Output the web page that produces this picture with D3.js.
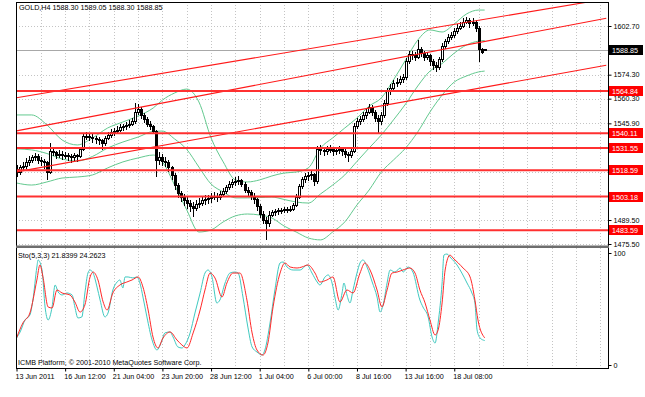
<!DOCTYPE html>
<html>
<head>
<meta charset="utf-8">
<script src="https://cdn.jsdelivr.net/npm/d3@7"></script>
<style>
  body { margin: 0; background: #fff; }
  svg text { font-family: "Liberation Sans", Arial, sans-serif; font-size: 7.2px; fill: #000; }
</style>
</head>
<body>
<div id="chart"></div>
<script>
// GOLD H4 bars, [open, high, low, close]
const candles = [
  [1519.0,1521.5,1514.5,1517.5],[1517.5,1521.8,1516.0,1519.9],[1519.9,1523.5,1518.2,1521.0],[1521.0,1525.6,1519.4,1522.8],
  [1522.8,1527.0,1521.0,1524.5],[1524.5,1527.5,1522.6,1525.7],[1525.7,1528.4,1523.9,1526.3],[1526.3,1527.8,1522.1,1524.5],
  [1524.5,1526.0,1520.8,1523.4],[1523.4,1525.2,1519.5,1522.8],[1522.8,1523.9,1512.9,1517.5],[1517.5,1534.4,1516.3,1529.2],
  [1529.2,1531.4,1526.8,1528.6],[1528.6,1530.0,1525.1,1527.4],[1527.4,1530.2,1525.8,1528.0],[1528.0,1529.6,1524.6,1526.9],
  [1526.9,1529.3,1525.0,1527.4],[1527.4,1528.7,1523.8,1526.3],[1526.3,1527.9,1522.8,1525.7],[1525.7,1528.6,1524.1,1526.9],
  [1526.9,1528.1,1523.6,1526.3],[1526.3,1532.1,1525.4,1530.4],[1530.4,1540.3,1529.5,1538.0],[1538.0,1540.9,1536.1,1538.5],
  [1538.5,1540.2,1535.5,1537.4],[1537.4,1539.6,1534.7,1536.8],[1536.8,1538.8,1534.0,1536.2],[1536.2,1538.1,1533.4,1535.6],
  [1535.6,1536.9,1530.6,1533.9],[1533.9,1538.6,1532.8,1536.8],[1536.8,1541.0,1535.9,1539.1],[1539.1,1542.4,1537.6,1540.3],
  [1540.3,1543.2,1538.8,1541.4],[1541.4,1544.1,1539.7,1542.0],[1542.0,1545.3,1540.6,1543.2],[1543.2,1545.7,1541.3,1543.8],
  [1543.8,1546.5,1542.0,1544.4],[1544.4,1547.6,1543.0,1545.5],[1545.5,1548.9,1544.1,1546.7],[1546.7,1557.8,1545.8,1552.5],
  [1552.5,1557.2,1550.6,1553.7],[1553.7,1555.3,1548.4,1550.2],[1550.2,1552.0,1545.9,1547.9],[1547.9,1549.6,1543.7,1545.5],
  [1545.5,1547.4,1541.9,1543.8],[1543.8,1545.2,1539.6,1541.4],[1541.4,1542.3,1514.6,1524.5],[1524.5,1529.1,1521.8,1525.7],
  [1525.7,1527.9,1521.2,1523.9],[1523.9,1526.2,1520.5,1522.8],[1522.8,1524.4,1517.6,1519.9],[1519.9,1521.3,1512.8,1515.2],
  [1515.2,1516.7,1506.9,1509.4],[1509.4,1511.2,1502.1,1504.7],[1504.7,1506.3,1499.8,1502.4],[1502.4,1504.9,1497.6,1500.6],
  [1500.6,1503.0,1495.7,1498.9],[1498.9,1501.4,1494.2,1497.1],[1497.1,1499.8,1491.3,1496.5],[1496.5,1501.2,1495.0,1498.3],
  [1498.3,1502.6,1496.4,1499.4],[1499.4,1503.3,1497.5,1500.6],[1500.6,1504.0,1498.2,1501.2],[1501.2,1503.9,1498.7,1501.8],
  [1501.8,1505.1,1499.6,1502.4],[1502.4,1505.8,1500.9,1503.5],[1503.5,1505.0,1499.8,1502.4],[1502.4,1506.3,1501.1,1504.1],
  [1504.1,1508.2,1502.9,1505.9],[1505.9,1510.1,1504.6,1508.2],[1508.2,1512.4,1506.8,1510.0],[1510.0,1513.6,1508.4,1511.1],
  [1511.1,1514.5,1509.3,1511.7],[1511.7,1514.9,1509.8,1512.3],[1512.3,1513.7,1508.6,1510.5],[1510.5,1511.8,1505.2,1507.0],
  [1507.0,1508.9,1503.4,1505.3],[1505.3,1507.1,1501.0,1503.5],[1503.5,1505.0,1498.7,1501.2],[1501.2,1502.4,1494.9,1497.1],
  [1497.1,1498.6,1490.8,1493.0],[1493.0,1494.7,1486.9,1489.5],[1489.5,1491.2,1477.9,1487.2],[1487.2,1494.6,1485.7,1492.4],
  [1492.4,1495.2,1491.0,1493.6],[1493.6,1495.9,1492.1,1494.2],[1494.2,1496.4,1492.6,1494.8],[1494.8,1496.6,1493.1,1494.8],
  [1494.8,1497.3,1493.5,1495.4],[1495.4,1497.2,1493.8,1495.4],[1495.4,1497.8,1494.2,1495.9],[1495.9,1499.6,1494.8,1497.7],
  [1497.7,1504.8,1496.9,1502.9],[1502.9,1510.6,1501.7,1508.8],[1508.8,1514.7,1507.5,1512.9],[1512.9,1516.8,1511.3,1514.6],
  [1514.6,1517.6,1512.4,1515.2],[1515.2,1518.1,1513.0,1515.8],[1515.8,1517.2,1509.5,1511.7],[1511.7,1532.9,1510.8,1530.4],
  [1530.4,1533.1,1527.6,1529.8],[1529.8,1532.0,1526.9,1529.2],[1529.2,1532.8,1527.7,1530.4],[1530.4,1533.4,1528.5,1530.9],
  [1530.9,1532.2,1526.8,1529.2],[1529.2,1532.1,1527.5,1529.8],[1529.8,1532.6,1528.1,1530.4],[1530.4,1531.9,1526.7,1529.2],
  [1529.2,1530.8,1525.4,1528.0],[1528.0,1529.4,1523.6,1526.9],[1526.9,1531.3,1525.8,1529.2],[1529.2,1546.2,1528.4,1543.8],
  [1543.8,1549.1,1542.5,1546.7],[1546.7,1550.0,1544.9,1547.9],[1547.9,1552.6,1546.4,1550.2],[1550.2,1554.8,1548.7,1552.5],
  [1552.5,1557.3,1551.1,1554.9],[1554.9,1556.4,1550.3,1552.5],[1552.5,1553.9,1546.8,1549.0],[1549.0,1550.6,1540.3,1546.7],
  [1546.7,1552.4,1545.2,1550.2],[1550.2,1559.3,1549.1,1557.2],[1557.2,1566.4,1556.0,1564.2],[1564.2,1568.9,1562.7,1566.5],
  [1566.5,1571.2,1564.8,1568.9],[1568.9,1572.5,1567.1,1570.0],[1570.0,1573.6,1568.2,1571.2],[1571.2,1574.9,1569.5,1572.4],
  [1572.4,1583.9,1571.3,1581.7],[1581.7,1588.2,1580.5,1585.8],[1585.8,1587.9,1583.0,1585.2],[1585.2,1587.4,1582.1,1584.6],
  [1584.6,1594.5,1583.4,1588.7],[1588.7,1590.3,1584.6,1586.4],[1586.4,1588.0,1582.2,1584.6],[1584.6,1587.8,1582.9,1585.2],
  [1585.2,1586.6,1579.4,1581.7],[1581.7,1583.3,1577.0,1579.9],[1579.9,1581.5,1575.8,1578.2],[1578.2,1584.8,1577.1,1582.9],
  [1582.9,1592.6,1581.8,1590.5],[1590.5,1595.3,1589.2,1593.4],[1593.4,1597.8,1592.1,1595.7],[1595.7,1599.0,1594.3,1596.9],
  [1596.9,1601.4,1595.6,1599.2],[1599.2,1603.6,1598.0,1601.5],[1601.5,1605.1,1600.2,1602.7],[1602.7,1607.2,1601.5,1605.0],
  [1605.0,1608.0,1603.8,1606.2],[1606.2,1607.5,1601.8,1603.9],[1603.9,1607.1,1602.6,1605.0],[1605.0,1606.3,1599.4,1601.5],
  [1601.5,1602.8,1581.7,1588.7],[1588.7,1590.1,1586.2,1587.5],[1588.30,1589.05,1588.30,1588.85]
];

// Bollinger bands, sampled at these bar numbers
const bbBars   = [0,5,10,15,20,25,30,35,40,45,48,52,56,60,64,68,72,76,80,84,88,92,96,100,104,108,112,116,120,124,128,132,136,140,144,148,152,154];
const bbUpper  = [1550.8,1550.8,1545.0,1536.2,1533.3,1537.4,1543.2,1546.7,1550.2,1554.9,1559.5,1563.6,1565.9,1558.4,1537.4,1523.4,1512.9,1511.7,1512.9,1515.2,1516.9,1517.5,1519.9,1531.5,1537.4,1543.2,1549.0,1556.0,1560.7,1571.2,1582.9,1594.5,1600.4,1599.2,1603.9,1609.7,1612.0,1612.0];
const bbMiddle = [1531.0,1530.4,1528.3,1525.1,1523.9,1526.6,1531.5,1535.0,1537.9,1541.2,1541.4,1536.8,1530.7,1520.4,1510.5,1505.9,1502.4,1502.4,1502.6,1502.9,1501.5,1500.0,1499.4,1504.7,1509.9,1515.8,1523.7,1531.5,1539.1,1547.9,1557.2,1567.7,1576.4,1580.8,1586.9,1591.6,1593.9,1594.2];
const bbLower  = [1511.1,1509.9,1511.7,1514.0,1514.6,1515.8,1519.9,1523.4,1525.7,1527.4,1523.4,1509.9,1495.4,1482.5,1483.7,1488.4,1491.9,1493.0,1492.4,1490.7,1486.0,1482.5,1479.0,1477.9,1482.5,1488.4,1498.3,1507.0,1517.5,1524.5,1531.5,1540.9,1552.5,1562.4,1570.0,1573.5,1575.9,1576.4];

// Stochastic(5,3,3): [bar, value]
const stochMain = [
  [0,24.1],[1.2,29.5],[2.8,40.2],[4.4,44.6],[5.4,58],[6.7,87.5],[7.1,93.8],[8.4,84.8],[9.4,51.8],[10.4,40.2],
  [11.7,51.8],[12.7,71.4],[13.7,65.2],[15,62.5],[16.6,64.3],[18.3,62.5],[19.2,51.8],[20.2,42],[21.5,42.9],[22.5,64.3],
  [23.5,82.1],[24.2,84.8],[25.2,82.1],[26.5,69.6],[27.5,58],[29.1,42.9],[30.1,46.4],[31.7,67],[33.1,74.1],[34,75.9],
  [35,68.8],[35.7,78.6],[36.7,78.6],[38.3,77.7],[39.6,78.6],[40.6,73.2],[41.6,60.7],[42.9,42.9],[44.6,22.3],[46.2,13.4],
  [47.9,22.3],[48.8,28.6],[50.5,29.5],[51.5,25],[53.1,16.1],[54.4,15.2],[55.4,17.9],[57.1,28.6],[58.7,46.4],[60.4,64.3],
  [62,82.1],[63,84.8],[64.3,78.6],[65.9,55.4],[66.9,58],[68.6,73.2],[70.2,82.1],[71.9,83],[72.9,82.1],[74.5,60.7],
  [76.1,33.9],[77.5,16.1],[79.1,11.6],[80.8,8.9],[81.7,13.4],[83.4,37.5],[85,67],[86.7,91.1],[87.7,92],[89,87.5],
  [91,84.8],[93.3,84.8],[95.6,89.3],[97.2,82.1],[98.9,74.1],[99.8,71.4],[101.5,78.6],[102.5,80.4],[103.8,73.2],[104.8,59.8],
  [105.8,49.1],[107.1,64.3],[107.7,73.2],[108.7,62.5],[109.7,55.4],[110.7,67],[112,82.1],[113,91.1],[114,93.8],[115.3,87.5],
  [117,74.1],[118.6,60.7],[119.6,47.3],[120.6,53.6],[121.9,73.2],[122.9,84.8],[124.5,83],[126.2,86.6],[127.2,83],[128.8,87.5],
  [130.4,83],[132.7,58],[133.7,51.8],[135.4,42.9],[136.7,25],[137.7,19.6],[138.7,37.5],[140,73.2],[140.6,98.2],[141.6,99.1],
  [142.9,95.5],[144.9,89.3],[146.5,82.1],[148.2,73.2],[149.8,64.3],[150.8,55.4],[151.5,31.3],[152.5,24.1],[154,21.84]
];
const stochSignal = [
  [0,24.1],[2.1,37.5],[4.4,46.4],[6.7,75.9],[7.7,89.3],[8.7,78.6],[10.4,51.8],[11.7,50.9],[13.3,67],[15,64.3],
  [17.6,62.5],[19.2,56.3],[20.9,47.3],[22.5,53.6],[24.2,78.6],[25.2,83],[26.8,75.9],[28.5,56.3],[29.8,49.1],[31.7,64.3],
  [34,71.4],[36.3,74.1],[38,75.9],[40,78.6],[41.6,69.6],[43.3,49.1],[44.9,25],[46.5,15.2],[48.2,24.1],[50.5,29.5],
  [52.8,22.3],[54.4,17.9],[56.1,15.2],[58.1,28.6],[60.4,49.1],[62,67],[63.7,82.1],[65.3,77.7],[67.6,60.7],[69.2,73.2],
  [71.2,82.1],[73.5,82.1],[75.8,58],[77.5,28.6],[79.1,13.4],[81.1,8.9],[82.7,19.6],[84.4,51.8],[86.7,82.1],[88.3,91.1],
  [90,87.5],[92.3,86.6],[93.9,87.5],[95.9,89.3],[98.2,82.1],[99.8,74.1],[102.1,75.9],[104.1,78.6],[106.4,56.3],[108.7,67],
  [110.7,64.3],[113,82.1],[114.6,91.1],[116.3,84.8],[118.6,67],[120.2,51.8],[121.9,67],[123.5,82.1],[125.2,83],[127.1,84.8],
  [129.4,86.6],[131.1,82.1],[132.7,67],[134.4,55.4],[136,40.2],[137.7,26.8],[138.7,31.3],[140,55.4],[141,84.8],[142.6,98.2],
  [143.6,95.5],[145.3,91.1],[146.9,86.6],[149.2,78.6],[150.8,58],[151.8,40.2],[154,24.26]
];

// drawn objects
const trendLines = [
  [[0, 1560.8], [194, 1618.5]],
  [[0, 1541.5], [194, 1607.2]],
  [[0, 1517.6], [194, 1579.8]]
];
const levels = [1564.84, 1540.11, 1531.55, 1518.59, 1503.18, 1483.59];
const bidPrice = 1588.85;

// axis ticks (grid at all of them; labels that sit under a price tag are not printed)
const priceTicks = [1602.70, 1588.60, 1574.30, 1560.30, 1545.90, 1531.80, 1517.70, 1503.60, 1489.50, 1475.50];
const priceLabels = [1602.70, 1574.30, 1560.30, 1545.90, 1489.50, 1475.50];
const timeTicks  = [0, 16, 32, 48, 64, 80, 96, 112, 128, 144];
const timeLabels = ['13 Jun 2011', '16 Jun 12:00', '21 Jun 04:00', '23 Jun 20:00', '28 Jun 12:00',
                    '1 Jul 04:00', '6 Jul 00:00', '8 Jul 16:00', '13 Jul 16:00', '18 Jul 08:00'];

class TerminalChart {
  constructor(_config) {
    this.config = {
      parentElement: _config.parentElement,
      width: 645,
      height: 397,
      left: 16, right: 608,
      mainTop: 2, mainBottom: 246,
      subTop: 248, subBottom: 368
    };
    this.initVis();
  }

  initVis() {
    let vis = this;
    const c = vis.config;

    vis.svg = d3.select(c.parentElement).append('svg')
        .attr('width', c.width)
        .attr('height', c.height);

    vis.x = d3.scaleLinear().domain([0, 195]).range([16.5, 16.5 + 3.04 * 195]);
    vis.y = d3.scaleLinear().domain([1475.50, 1602.70]).range([244, 26]);
    vis.ys = d3.scaleLinear().domain([0, 100]).range([365, 253]);

    const defs = vis.svg.append('defs');
    defs.append('clipPath').attr('id', 'clip-main').append('rect')
        .attr('x', c.left).attr('y', c.mainTop).attr('width', c.right - c.left).attr('height', c.mainBottom - c.mainTop);
    defs.append('clipPath').attr('id', 'clip-sub').append('rect')
        .attr('x', c.left).attr('y', c.subTop).attr('width', c.right - c.left).attr('height', c.subBottom - c.subTop);

    // grid
    const grid = vis.svg.append('g')
        .attr('stroke', '#c4c4c4').attr('stroke-dasharray', '1,2').attr('shape-rendering', 'crispEdges');
    const gridBars = d3.range(8, 195, 8);
    grid.selectAll('.vgm').data(gridBars).join('line')
        .attr('x1', d => Math.round(vis.x(d)) + 0.5).attr('x2', d => Math.round(vis.x(d)) + 0.5)
        .attr('y1', c.mainTop).attr('y2', c.mainBottom);
    grid.selectAll('.vgs').data(gridBars).join('line')
        .attr('x1', d => Math.round(vis.x(d)) + 0.5).attr('x2', d => Math.round(vis.x(d)) + 0.5)
        .attr('y1', c.subTop).attr('y2', c.subBottom);
    grid.selectAll('.hg').data(priceTicks).join('line')
        .attr('x1', c.left).attr('x2', c.right)
        .attr('y1', d => Math.round(vis.y(d)) + 0.5).attr('y2', d => Math.round(vis.y(d)) + 0.5);

    // bid line
    vis.svg.append('line')
        .attr('x1', c.left).attr('x2', c.right)
        .attr('y1', Math.round(vis.y(bidPrice)) + 0.5).attr('y2', Math.round(vis.y(bidPrice)) + 0.5)
        .attr('stroke', '#a8a8a8').attr('shape-rendering', 'crispEdges');

    const main = vis.svg.append('g').attr('clip-path', 'url(#clip-main)');

    // Bollinger bands
    const bbLine = d3.line().x(d => vis.x(d[0])).y(d => vis.y(d[1])).curve(d3.curveMonotoneX);
    [bbUpper, bbMiddle, bbLower].forEach(band => {
      main.append('path')
          .datum(bbBars.map((b, i) => [b, band[i]]))
          .attr('d', bbLine)
          .attr('fill', 'none').attr('stroke', '#63c98f').attr('stroke-width', 1);
    });

    // candles
    const bars = main.append('g').attr('shape-rendering', 'crispEdges');
    const cx = i => Math.round(vis.x(i)) + 0.5;
    bars.selectAll('.wick').data(candles).join('line')
        .attr('x1', (d, i) => cx(i)).attr('x2', (d, i) => cx(i))
        .attr('y1', d => vis.y(d[1])).attr('y2', d => vis.y(d[2]))
        .attr('stroke', '#000');
    bars.selectAll('.body').data(candles).join('rect')
        .attr('x', (d, i) => cx(i) - 1)
        .attr('width', 2)
        .attr('y', d => vis.y(Math.max(d[0], d[3])))
        .attr('height', d => Math.max(1, Math.abs(vis.y(d[0]) - vis.y(d[3]))))
        .attr('fill', d => d[3] >= d[0] ? '#fff' : '#000')
        .attr('stroke', '#000').attr('stroke-width', 1);

    // trend lines and levels
    const tl = d3.line().x(d => vis.x(d[0])).y(d => vis.y(d[1]));
    main.selectAll('.trend').data(trendLines).join('path')
        .attr('d', tl).attr('fill', 'none').attr('stroke', '#ff1a1a').attr('stroke-width', 1.1);
    main.selectAll('.level').data(levels).join('line')
        .attr('x1', c.left).attr('x2', c.right)
        .attr('y1', d => vis.y(d)).attr('y2', d => vis.y(d))
        .attr('stroke', '#ff3030').attr('stroke-width', 2);

    // stochastic window
    const sub = vis.svg.append('g').attr('clip-path', 'url(#clip-sub)');
    const sl = d3.line().x(d => vis.x(d[0])).y(d => vis.ys(d[1])).curve(d3.curveMonotoneX);
    sub.append('path').datum(stochMain).attr('d', sl)
        .attr('fill', 'none').attr('stroke', '#3fc9c0').attr('stroke-width', 1);
    sub.append('path').datum(stochSignal).attr('d', sl)
        .attr('fill', 'none').attr('stroke', '#ff2828').attr('stroke-width', 1);

    // frames
    vis.svg.append('rect')
        .attr('x', c.left + 0.5).attr('y', c.mainTop + 0.5)
        .attr('width', c.right - c.left).attr('height', c.subBottom - c.mainTop)
        .attr('fill', 'none').attr('stroke', '#000').attr('shape-rendering', 'crispEdges');
    vis.svg.append('rect')
        .attr('x', c.left).attr('y', c.mainBottom - 0.5)
        .attr('width', c.right - c.left + 1).attr('height', 2.5)
        .attr('fill', '#6e6e6e');

    // axes
    const priceAxis = d3.axisRight(vis.y).tickValues(priceTicks).tickSize(3).tickPadding(2)
        .tickFormat(d => priceLabels.includes(d) ? d3.format('.2f')(d) : '');
    vis.svg.append('g').attr('transform', `translate(${c.right + 0.5},0)`).call(priceAxis)
        .call(g => g.select('.domain').remove())
        .call(g => g.selectAll('text').attr('font-size', 7.2).attr('font-family', null));

    const stochAxis = d3.axisRight(vis.ys).tickValues([0, 100]).tickSize(3).tickPadding(2);
    vis.svg.append('g').attr('transform', `translate(${c.right + 0.5},0)`).call(stochAxis)
        .call(g => g.select('.domain').remove())
        .call(g => g.selectAll('text').attr('font-size', 7.2).attr('font-family', null));

    const timeAxis = d3.axisBottom(vis.x).tickValues(timeTicks).tickSize(3).tickPadding(2)
        .tickFormat((d, i) => timeLabels[i]);
    vis.svg.append('g').attr('transform', `translate(0,${c.subBottom + 0.5})`).call(timeAxis)
        .call(g => g.select('.domain').remove())
        .call(g => g.selectAll('text').attr('text-anchor', 'start').attr('dx', -1.5)
            .attr('font-size', 6.8).attr('font-family', null));

    // level labels
    const tags = vis.svg.append('g');
    const tag = (price, fill) => {
      const yy = Math.round(vis.y(price));
      tags.append('rect').attr('x', c.right + 1).attr('y', yy - 5)
          .attr('width', 34).attr('height', 10).attr('fill', fill);
      tags.append('text').attr('x', c.right + 4).attr('y', yy + 2.5)
          .style('fill', '#fff').text(price.toFixed(2));
    };
    levels.forEach(l => tag(l, '#ff0000'));
    tag(bidPrice, '#000');

    // texts
    vis.svg.append('text').attr('x', 19).attr('y', 10)
        .text('GOLD,H4  1588.30 1589.05 1588.30 1588.85');
    vis.svg.append('text').attr('x', 18).attr('y', 258)
        .text('Sto(5,3,3) 21.8399 24.2623');
    vis.svg.append('text').attr('x', 18).attr('y', 365)
        .text('ICMB Platform, \u00a9 2001-2010 MetaQuotes Software Corp.');
  }
}

new TerminalChart({ parentElement: '#chart' });
</script>
</body>
</html>
